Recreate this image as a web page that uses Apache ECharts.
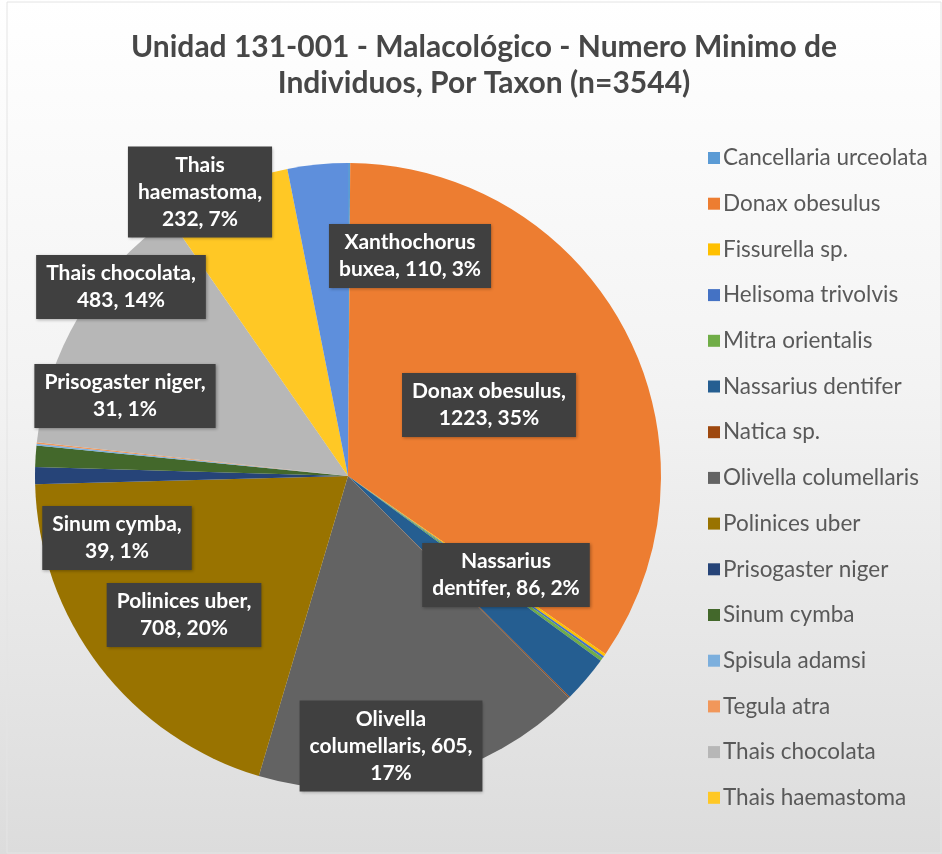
<!DOCTYPE html>
<html>
<head>
<meta charset="utf-8">
<script src="https://cdn.jsdelivr.net/npm/echarts@6/dist/echarts.min.js"></script>
<style>html,body{margin:0;padding:0;background:#fff}#c{width:942px;height:854px}</style>
</head>
<body>
<div id="c"></div>
<script>
// ---- data ----
const titleText = 'Unidad 131-001 - Malacológico - Numero Minimo de\nIndividuos, Por Taxon (n=3544)';
const categories = ['Cancellaria urceolata','Donax obesulus','Fissurella sp.','Helisoma trivolvis','Mitra orientalis','Nassarius dentifer','Natica sp.','Olivella columellaris','Polinices uber','Prisogaster niger','Sinum cymba','Spisula adamsi','Tegula atra','Thais chocolata','Thais haemastoma','Xanthochorus buxea'];
const values = [4, 1223, 5, 4, 6, 86, 2, 605, 708, 31, 39, 3, 3, 483, 232, 110];
const legendNames = categories.slice(0, 15);
const labelled = ['Donax obesulus','Nassarius dentifer','Olivella columellaris','Polinices uber','Prisogaster niger','Sinum cymba','Thais chocolata','Thais haemastoma','Xanthochorus buxea'];

// ---- style / layout ----
const colors = ['#5B9BD5','#ED7D31','#FFC000','#4472C4','#70AD47','#255E91','#9E480E','#636363','#997300','#264478','#43682B','#7CAFDD','#F1975A','#B7B7B7','#FFC825','#5E8FDC'];
// words per line for each label, and label box centre
const labelLines = {
  'Donax obesulus':[2,2], 'Nassarius dentifer':[1,3], 'Olivella columellaris':[1,2,1],
  'Polinices uber':[2,2], 'Prisogaster niger':[2,2], 'Sinum cymba':[2,2],
  'Thais chocolata':[2,2], 'Thais haemastoma':[1,1,2], 'Xanthochorus buxea':[1,3]
};
const labelCenters = {
  'Donax obesulus':[489,405], 'Nassarius dentifer':[506,575], 'Olivella columellaris':[391,746],
  'Polinices uber':[184,615], 'Prisogaster niger':[125,396], 'Sinum cymba':[117,538],
  'Thais chocolata':[121,287], 'Thais haemastoma':[200,192], 'Xanthochorus buxea':[410,256]
};

const data = categories.map((n, i) => ({
  name: n, value: values[i],
  itemStyle: { color: colors[i] },
  label: { show: labelled.indexOf(n) >= 0 }
}));

const chart = echarts.init(document.getElementById('c'));
chart.setOption({
  backgroundColor: new echarts.graphic.LinearGradient(0, 0, 0, 1, [
    { offset: 0, color: '#ffffff' }, { offset: 0.45, color: '#f3f3f3' }, { offset: 1, color: '#dcdcdc' }
  ]),
  animation: false,
  title: {
    text: titleText, left: 479, top: 24, textAlign: 'center',
    textStyle: { fontFamily: 'Lato', fontWeight: 'bold', fontSize: 30, lineHeight: 36, color: '#474747' }
  },
  legend: {
    data: legendNames, orient: 'vertical', left: 703, top: 141,
    itemWidth: 12, itemHeight: 12, itemGap: 21.7, icon: 'rect',
    textStyle: { fontFamily: 'Lato', fontSize: 22.5, lineHeight: 24, color: '#595959', padding: [0,0,0,-2] }
  },
  graphic: [{ type: 'rect', shape: { x: 7, y: 2, width: 934, height: 851 }, style: { fill: 'none', stroke: '#e4e4e4', lineWidth: 1 }, silent: true }],
  series: [{
    type: 'pie', center: [348, 476], radius: 313, startAngle: 90, clockwise: true,
    data: data,
    label: {
      position: 'inside',
      fontFamily: 'Lato', fontWeight: 'bold', fontSize: 21, lineHeight: 27, color: '#ffffff',
      backgroundColor: '#404040', padding: [5, 10, 5, 10],
      shadowColor: 'rgba(0,0,0,0.3)', shadowBlur: 3, shadowOffsetX: 1, shadowOffsetY: 1,
      align: 'center',
      formatter: function (p) {
        const words = (p.name + ', ' + p.value + ', ' + Math.round(p.percent) + '%').split(' ');
        const spec = labelLines[p.name] || [words.length];
        const out = []; let k = 0;
        spec.forEach(c => { out.push(words.slice(k, k + c).join(' ')); k += c; });
        return out.join('\n');
      }
    },
    labelLine: { show: false },
    labelLayout: function (p) {
      const name = categories[p.dataIndex];
      const c = labelCenters[name];
      if (!c) return {};
      return { x: c[0], y: c[1], align: 'center', verticalAlign: 'middle' };
    },
    emphasis: { disabled: true }
  }]
});
</script>
</body>
</html>
